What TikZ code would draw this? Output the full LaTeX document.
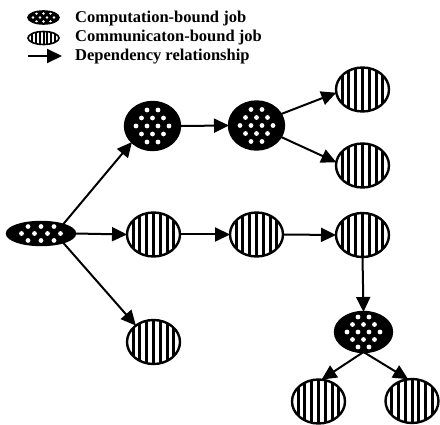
\documentclass[tikz,border=0pt]{standalone}
\usepackage{fontspec}
\setmainfont{Liberation Serif}
\usetikzlibrary{shapes.geometric,arrows.meta}
\tikzset{
  job/.style={ellipse, draw=black, line width=2.2pt, inner sep=0pt, outer sep=0pt},
  comm/.style n args={5}{job, line width=#5, fill=white, minimum width=#1, minimum height=#2,
    path picture={\foreach \i in {-7,...,7}{\fill[black] ([xshift=\i*#3-0.5*#4,yshift=-40pt]path picture bounding box.center) rectangle ++(#4,80pt);}}},
  comp/.style n args={8}{job, line width=#8, fill=black, minimum width=#1, minimum height=#2,
    path picture={\foreach \j in {-3,...,3}{\foreach \i in {-4,...,4}{%
      \pgfmathsetmacro\ddx{(\i+0.5*(1-mod(\j+10,2)))*#3}%
      \pgfmathsetmacro\ddy{\j*#4}%
      \pgfmathsetmacro\rr{(\ddx/#5)^2+(\ddy/#6)^2}%
      \ifdim\rr pt<1pt \fill[white] ([shift={(\ddx pt,\ddy pt)}]path picture bounding box.center) circle (#7);\fi
    }}}},
  bigcomm/.style={comm={53pt}{44pt}{6.8pt}{3pt}{2.4pt}},
  bigcomp/.style={comp={55pt}{48pt}{11}{8}{23}{21}{2.4pt}{2.4pt}},
  arr/.style={line width=2pt, -{Triangle[length=15pt,width=14pt]}},
  legtext/.style={anchor=base west, inner sep=0pt, font=\fontsize{16.5}{18}\selectfont\bfseries},
}
\begin{document}
\begin{tikzpicture}[x=1pt,y=-1pt]
\useasboundingbox (0,0) rectangle (440,425);
% legend
\node[comp={31pt}{13pt}{7}{4}{13}{5.5}{1.4pt}{1.6pt}] (lc) at (43.5,17.5) {};
\node[comm={31pt}{13pt}{3.8pt}{2pt}{1.6pt}] (lm) at (43.5,38) {};
\coordinate (la) at (28,56);
\coordinate (lb) at (62,56);
\draw[arr] (la) -- (lb);
\node[legtext] (t1) at (75,23) {Computation-bound job};
\node[legtext] (t2) at (75,42) {Communicaton-bound job};
\node[legtext] (t3) at (75,61) {Dependency relationship};
% nodes
\node[comp={68pt}{23pt}{13}{7}{28}{9}{2.4pt}{2.4pt}] (root) at (41,233.5) {};
\node[bigcomp] (A) at (152.5,126) {};
\node[bigcomp] (B) at (256.5,125.5) {};
\node[bigcomm] (UR) at (362.5,89.5) {};
\node[bigcomm] (LR) at (362.5,165.5) {};
\node[bigcomm] (M1) at (153.5,234.5) {};
\node[bigcomm] (M2) at (256.5,234.5) {};
\node[bigcomm] (M3) at (362.5,235) {};
\node[bigcomm] (C) at (153.5,342) {};
\node[comp={57pt}{40pt}{11}{7.5}{23}{18}{2.4pt}{2.4pt}] (D) at (363.5,332) {};
\node[bigcomm] (BL) at (318.5,401.5) {};
\node[bigcomm] (BR) at (412,401) {};
% edges
\draw[arr] (root.22) -- (A.218);
\draw[arr] (root.east) -- (M1.west);
\draw[arr] (root.-22) -- (C.137);
\draw[arr] (A.east) -- (B.west);
\draw[arr] (B.25) -- (UR.187);
\draw[arr] (B.-25) -- (LR.173);
\draw[arr] (M1.east) -- (M2.west);
\draw[arr] (M2.east) -- (M3.west);
\draw[arr] (M3.south) -- (D.north);
\draw[arr] (D.south) -- (BL.82);
\draw[arr] (D.south) -- (BR.100);
\end{tikzpicture}
\end{document}
